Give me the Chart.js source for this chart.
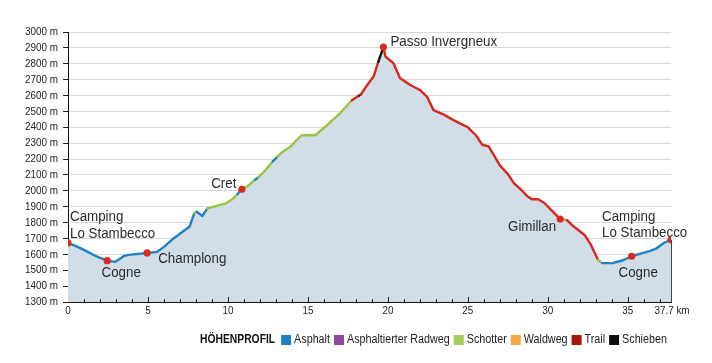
<!DOCTYPE html>
<html><head><meta charset="utf-8">
<script src="https://cdn.jsdelivr.net/npm/chart.js@4.4.0/dist/chart.umd.min.js"></script>
<style>
html,body{margin:0;padding:0;background:#fff;}
#wrap{position:relative;width:712px;height:363px;overflow:hidden;}
#c{position:absolute;left:0;top:0;}
</style></head>
<body>
<div id="wrap">
<canvas id="c" width="712" height="363"></canvas>
</div>
<script>
// ---- data ----
const distanceKm = [0.00,0.5,1.0,1.6,2.0,2.45,2.95,3.3,3.5,3.9,4.5,4.95,5.55,6.0,6.6,7.0,7.6,7.9,8.05,8.4,8.7,9.4,9.85,10.25,10.6,10.87,11.2,11.7,11.9,12.25,12.8,13.1,13.4,13.9,14.6,15.45,16.2,17.0,17.75,18.2,18.3,18.7,19.1,19.4,19.72,19.85,20.35,20.75,21.4,22.0,22.45,22.85,23.5,24.1,24.5,25.0,25.5,25.9,26.3,26.6,27.0,27.5,27.9,28.3,28.7,29.0,29.4,29.8,30.2,30.5,30.77,31.0,31.2,31.5,32.3,32.65,32.95,33.15,33.4,34.1,34.3,34.7,35.24,35.8,36.4,36.8,37.25,37.7];
const elevationM = [1672,1652,1628,1596,1578,1560,1553,1575,1590,1598,1604,1609,1615,1647,1700,1730,1775,1860,1868,1842,1888,1908,1920,1945,1980,2010,2027,2070,2085,2120,2185,2215,2245,2278,2350,2350,2414,2488,2570,2600,2605,2665,2718,2812,2905,2845,2803,2710,2666,2635,2592,2508,2480,2445,2425,2400,2350,2290,2280,2230,2160,2105,2045,2010,1968,1947,1947,1922,1880,1850,1822,1818,1815,1785,1722,1668,1605,1563,1545,1546,1552,1563,1588,1605,1622,1638,1672,1692];
// surface of the segment that starts at each point
const surface = ['A','A','A','A','A','A','A','A','A','A','A','A','A','A','A','A','A','S','A','A','S','S','S','S','A','S','S','A','S','S','A','S','S','S','S','S','S','S','T','K','T','T','T','K','T','T','T','T','T','T','T','T','T','T','T','T','T','T','T','T','T','T','T','T','T','T','T','T','T','T','A','S','T','T','T','T','T','S','A','A','A','A','A','A','A','A','A','A'];
const placeNames = [['Camping','Lo Stambecco'],['Cogne'],['Champlong'],['Cret'],['Passo Invergneux'],['Gimillan'],['Camping','Lo Stambecco'],['Cogne']];
const placeKm = [0, 2.45, 4.95, 10.87, 19.72, 30.77, 37.7, 35.24];
const placeElev = [1672, 1560, 1609, 2010, 2905, 1822, 1692, 1588];
const xLabelTicks = [0,5,10,15,20,25,30,35,37.7];
const xUnit = 'km';
const yUnit = 'm';
const legendTitle = 'HÖHENPROFIL';
const legendNames = ['Asphalt','Asphaltierter Radweg','Schotter','Waldweg','Trail','Schieben'];

// ---- styles ----
const FONT = "'Liberation Sans', Arial, sans-serif";
const SX = 0.86; // horizontal condensing of text
const lineColors = {A:'#1f82c4', R:'#8c4a9c', S:'#98c443', W:'#f5a941', T:'#d8271d', K:'#111111'};
const legendColors = ['#1f80c0','#8c4a9c','#a3cb58','#f5a941','#a9160f','#0d0d0d'];
const placeLayout = [
  {dx:2, dy:-26, align:'left'},
  {dx:14, dy:12.5, align:'center'},
  {dx:11, dy:5.5, align:'left'},
  {dx:-5.5, dy:-5.5, align:'right'},
  {dx:7, dy:-5.5, align:'left'},
  {dx:-4, dy:8, align:'right'},
  {dx:-69, dy:-23.5, align:'left'},
  {dx:6.5, dy:16, align:'center'}
];

function txt(ctx, s, x, y, align){
  ctx.save(); ctx.translate(x, y); ctx.scale(SX, 1);
  ctx.textAlign = align; ctx.fillText(s, 0, 0); ctx.restore();
}

const profile = distanceKm.map((x,i)=>({x, y: elevationM[i]}));
const markers = placeKm.map((x,i)=>({x, y: placeElev[i]}));

const overlay = {
  id:'overlay',
  afterDatasetsDraw(chart){
    const {ctx, scales:{x,y}, chartArea:a} = chart;
    ctx.save();
    // x ticks drawn inward
    ctx.strokeStyle = '#222'; ctx.lineWidth = 1;
    for (let k=1;k<=37;k++){
      const px = Math.round(x.getPixelForValue(k))+0.5;
      const len = (k%5===0)?5:3;
      ctx.beginPath(); ctx.moveTo(px,a.bottom); ctx.lineTo(px,a.bottom-len); ctx.stroke();
    }
    // right end vertical line
    const last = distanceKm.length-1;
    const ex = Math.round(x.getPixelForValue(distanceKm[last]))+0.5;
    ctx.strokeStyle = '#444';
    ctx.beginPath(); ctx.moveTo(ex, y.getPixelForValue(elevationM[last])); ctx.lineTo(ex, a.bottom); ctx.stroke();
    // y tick labels
    ctx.fillStyle = '#222'; ctx.font = '11.5px '+FONT; ctx.textBaseline='middle';
    y.ticks.forEach(t => txt(ctx, t.value+' '+yUnit, a.left-10, y.getPixelForValue(t.value), 'right'));
    // x tick labels
    x.ticks.forEach(t => {
      const last = t.value === xLabelTicks[xLabelTicks.length-1];
      txt(ctx, last ? t.value+' '+xUnit : String(t.value), x.getPixelForValue(t.value) + (last?1:0), a.bottom+9, 'center');
    });
    // place labels
    ctx.fillStyle = '#2b2b2b'; ctx.font = '15.5px '+FONT;
    placeNames.forEach((lines,i)=>{
      const L = placeLayout[i];
      const px = x.getPixelForValue(placeKm[i]) + L.dx;
      const py = y.getPixelForValue(placeElev[i]) + L.dy;
      lines.forEach((t,j)=> txt(ctx, t, px, py + j*16.5, L.align));
    });
    // legend
    let lx = 200; const ly = 340;
    ctx.fillStyle = '#111'; ctx.font = 'bold 12px '+FONT;
    txt(ctx, legendTitle, lx, ly, 'left');
    lx += ctx.measureText(legendTitle).width*SX + 6;
    ctx.font = '12.5px '+FONT;
    legendNames.forEach((n,i)=>{
      ctx.fillStyle = legendColors[i];
      ctx.fillRect(lx, ly-5, 10, 10);
      lx += 13;
      ctx.fillStyle = '#222';
      txt(ctx, n, lx, ly, 'left');
      lx += ctx.measureText(n).width*SX + 4;
    });
    ctx.restore();
  }
};

new Chart(document.getElementById('c'), {
  type:'line',
  data:{datasets:[
    {label:'Orte', type:'scatter', data:markers, order:0, pointRadius:3.6, pointBackgroundColor:'#dc2a1e', pointBorderWidth:0, showLine:false},
    {label:'Profil', data:profile, order:1, fill:false, borderWidth:2.4,
     pointRadius:0, tension:0, borderJoinStyle:'round', borderCapStyle:'round',
     segment:{borderColor: c => lineColors[surface[c.p0DataIndex]]}},
    {label:'Fläche', data:profile, order:2, fill:'start', backgroundColor:'#d2dee7', borderWidth:0,
     borderColor:'rgba(0,0,0,0)', pointRadius:0, tension:0}
  ]},
  options:{
    responsive:false, animation:false, events:[],
    layout:{padding:{top:32,right:41,left:0,bottom:0}},
    plugins:{legend:{display:false}, tooltip:{enabled:false}},
    scales:{
      x:{type:'linear', min:0, max:37.7,
        afterBuildTicks: s => { s.ticks = xLabelTicks.map(v=>({value:v})); },
        afterFit: s => { s.height = 61; },
        grid:{display:false, drawTicks:false},
        border:{display:true, color:'#111', width:1},
        ticks:{display:false, autoSkip:false}
      },
      y:{min:1300, max:3000,
        afterFit: s => { s.width = 68; },
        grid:{color:'#d9d9d9', lineWidth:1, tickColor:'#222', tickLength:5, drawTicks:true},
        border:{display:true, color:'#111', width:1},
        ticks:{display:false, autoSkip:false, stepSize:100}
      }
    }
  },
  plugins:[overlay]
});
</script>
</body></html>
